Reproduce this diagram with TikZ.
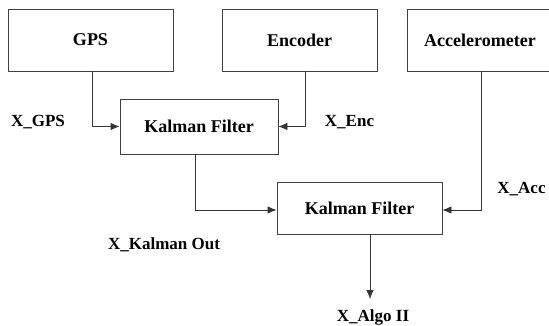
\documentclass[tikz,border=0pt]{standalone}
\usepackage{fontspec}
\setmainfont{Liberation Serif}
\usetikzlibrary{arrows.meta}

\begin{document}
\begin{tikzpicture}[
    x=1pt, y=-1pt,
    blocco/.style={draw=black!75, line width=0.8pt, rectangle, inner sep=0pt,
                   font=\fontsize{18}{20}\selectfont\bfseries},
    et/.style={font=\fontsize{17}{20}\selectfont\bfseries, inner sep=0pt},
    freccia/.style={black!80, line width=0.8pt, -{Latex[length=9pt,width=7.5pt]}},
  ]

  % ---- area del disegno ----------------------------------------------------
  \useasboundingbox (0,0) rectangle (549,325);

  % ---- sensori --------------------------------------------------------------
  \node[blocco, minimum width=165, minimum height=62] (gps) at (90.5,40)  {GPS};
  \node[blocco, minimum width=155, minimum height=62] (enc) at (299.5,40) {Encoder};
  \node[blocco, minimum width=146, minimum height=62] (acc) at (480,40)   {Accelerometer};

  % ---- i due filtri ---------------------------------------------------------
  \node[blocco, minimum width=158, minimum height=55] (kf1) at (199,126.5) {Kalman Filter};
  \node[blocco, minimum width=165, minimum height=52] (kf2) at (359.5,208) {Kalman Filter};

  \coordinate (uscita) at (370,299);

  % ---- collegamenti ---------------------------------------------------------
  \draw[freccia] ([xshift=1.5pt]gps.south) |- (kf1.west);
  \draw[freccia] ([xshift=5.5pt]enc.south) |- (kf1.east);
  \draw[freccia] ([xshift=-4pt]kf1.south) |- ([yshift=-2pt]kf2.west);
  \draw[freccia] ([xshift=1pt]acc.south) |- ([yshift=-2pt]kf2.east);
  \draw[freccia] (kf2.south -| uscita) -- (uscita);

  % ---- etichette ------------------------------------------------------------
  \node[et] (lgps) at (38,122)    {X\_GPS};
  \node[et] (lenc) at (349.5,122) {X\_Enc};
  \node[et] (lacc) at (521.5,189) {X\_Acc};
  \node[et] (lkal) at (164,245)   {X\_Kalman Out};
  \node[et] (lalg) at (373,317)   {X\_Algo II};

\end{tikzpicture}
\end{document}
